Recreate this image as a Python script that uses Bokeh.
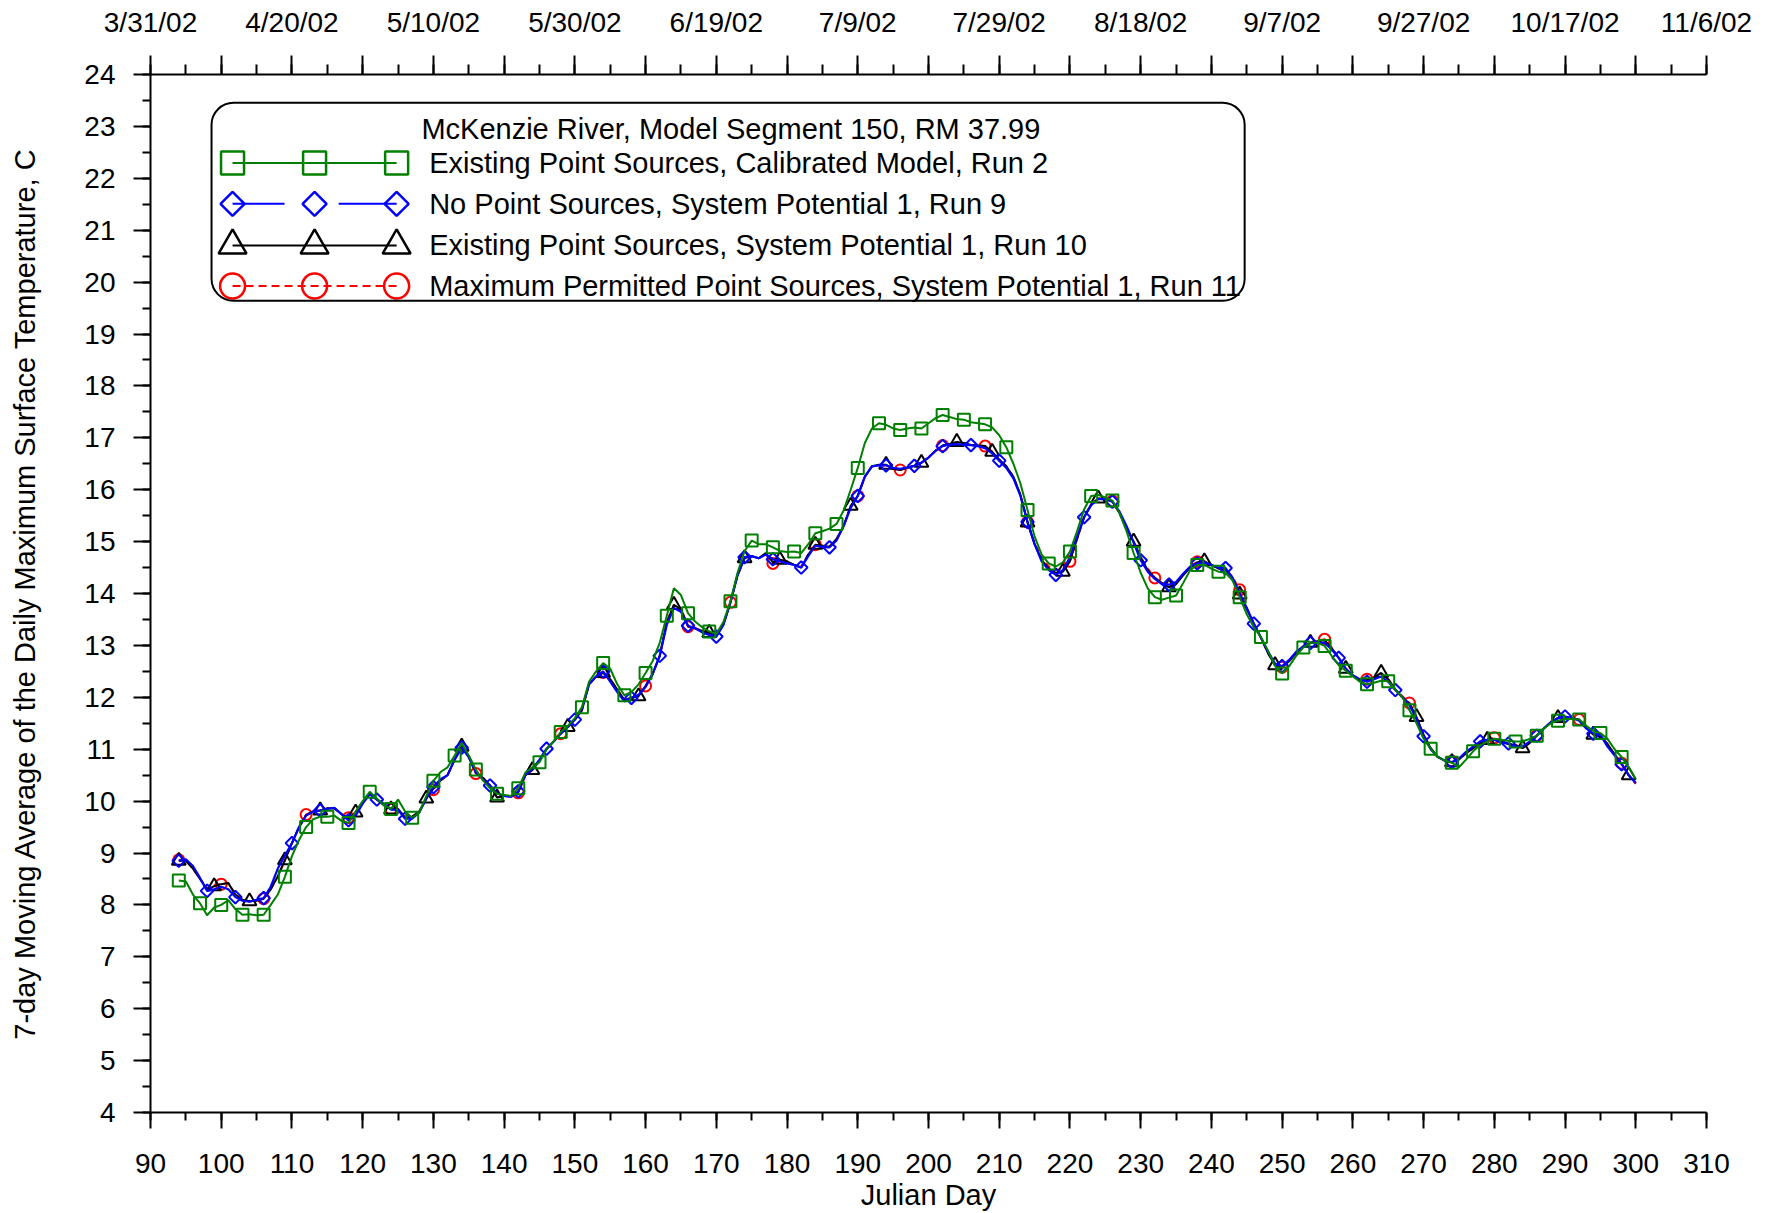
from bokeh.plotting import figure
from bokeh.models import Range1d, LinearAxis, SingleIntervalTicker, BoxAnnotation, Label
from bokeh.embed import file_html
from bokeh.resources import INLINE

# ---------------- data ----------------
days = list(range(94, 301))

# Existing Point Sources, Calibrated Model, Run 2 (green)
run2 = [
    8.47, 8.45, 8.20, 8.03, 7.80, 7.95, 8.00, 8.09, 7.92, 7.81,
    7.82, 7.80, 7.81, 8.00, 8.20, 8.54, 8.94, 9.25, 9.50, 9.65,
    9.70, 9.70, 9.72, 9.62, 9.58, 9.80, 10.00, 10.18, 10.05, 9.92,
    9.85, 10.03, 9.80, 9.68, 9.78, 10.10, 10.39, 10.56, 10.65, 10.88,
    11.12, 10.88, 10.61, 10.40, 10.25, 10.14, 10.12, 10.10, 10.25, 10.55,
    10.65, 10.75, 11.00, 11.15, 11.33, 11.45, 11.60, 11.81, 12.30, 12.50,
    12.66, 12.55, 12.25, 12.04, 12.10, 12.25, 12.47, 12.70, 13.05, 13.57,
    14.10, 13.97, 13.62, 13.46, 13.35, 13.27, 13.22, 13.45, 13.85, 14.40,
    14.82, 15.02, 14.95, 14.95, 14.89, 14.82, 14.80, 14.81, 14.78, 14.95,
    15.16, 15.20, 15.25, 15.34, 15.60, 16.00, 16.42, 16.90, 17.18, 17.28,
    17.25, 17.18, 17.15, 17.18, 17.20, 17.18, 17.28, 17.38, 17.44, 17.40,
    17.36, 17.35, 17.30, 17.28, 17.26, 17.20, 17.05, 16.82, 16.50, 16.12,
    15.61, 15.10, 14.75, 14.58, 14.52, 14.60, 14.81, 15.20, 15.62, 15.88,
    15.90, 15.85, 15.79, 15.55, 15.20, 14.78, 14.40, 14.10, 13.93, 13.88,
    13.92, 13.96, 14.20, 14.45, 14.55, 14.55, 14.48, 14.42, 14.40, 14.25,
    13.93, 13.60, 13.35, 13.16, 12.90, 12.60, 12.46, 12.60, 12.80, 12.96,
    13.05, 13.05, 12.99, 12.80, 12.62, 12.51, 12.40, 12.30, 12.25, 12.28,
    12.32, 12.31, 12.15, 12.00, 11.75, 11.50, 11.20, 11.01, 10.85, 10.78,
    10.74, 10.65, 10.80, 10.96, 11.08, 11.15, 11.20, 11.18, 11.16, 11.15,
    11.15, 11.20, 11.26, 11.40, 11.50, 11.55, 11.58, 11.58, 11.57, 11.45,
    11.35, 11.31, 11.20, 11.00, 10.85, 10.65, 10.42,
]

# No Point Sources, System Potential 1, Run 9 (blue)
run9 = [
    8.85, 8.88, 8.75, 8.52, 8.27, 8.30, 8.35, 8.30, 8.15, 8.08,
    8.06, 8.10, 8.13, 8.35, 8.70, 8.95, 9.19, 9.50, 9.72, 9.80,
    9.82, 9.85, 9.87, 9.75, 9.63, 9.72, 9.95, 10.13, 10.03, 9.95,
    9.84, 9.83, 9.66, 9.66, 9.78, 10.05, 10.27, 10.42, 10.50, 10.80,
    11.03, 10.85, 10.55, 10.42, 10.30, 10.15, 10.10, 10.08, 10.19, 10.50,
    10.62, 10.80, 11.01, 11.15, 11.30, 11.43, 11.57, 11.78, 12.25, 12.40,
    12.50, 12.30, 12.10, 11.92, 11.99, 12.05, 12.20, 12.45, 12.80, 13.40,
    13.72, 13.65, 13.38, 13.33, 13.25, 13.20, 13.17, 13.40, 13.83, 14.35,
    14.70, 14.72, 14.68, 14.75, 14.66, 14.62, 14.58, 14.55, 14.50, 14.72,
    14.92, 14.90, 14.89, 15.02, 15.30, 15.65, 15.88, 16.25, 16.45, 16.47,
    16.47, 16.42, 16.40, 16.43, 16.46, 16.52, 16.62, 16.75, 16.84, 16.87,
    16.88, 16.87, 16.86, 16.84, 16.80, 16.70, 16.56, 16.42, 16.22, 15.88,
    15.38, 14.95, 14.62, 14.45, 14.36, 14.45, 14.70, 15.10, 15.47, 15.70,
    15.82, 15.82, 15.77, 15.58, 15.30, 14.98, 14.64, 14.42, 14.28, 14.18,
    14.17, 14.22, 14.38, 14.52, 14.58, 14.60, 14.55, 14.50, 14.49, 14.30,
    14.00, 13.72, 13.42, 13.15, 12.88, 12.65, 12.60, 12.72, 12.88, 12.98,
    13.05, 13.05, 13.05, 12.92, 12.76, 12.55, 12.42, 12.35, 12.30, 12.35,
    12.40, 12.30, 12.14, 12.00, 11.85, 11.58, 11.25, 11.00, 10.85, 10.78,
    10.75, 10.82, 10.95, 11.05, 11.15, 11.18, 11.18, 11.12, 11.11, 11.05,
    11.05, 11.15, 11.26, 11.40, 11.52, 11.60, 11.63, 11.60, 11.55, 11.40,
    11.30, 11.28, 11.05, 10.88, 10.71, 10.50, 10.35,
]

# Existing Point Sources, System Potential 1, Run 10 (black)
run10 = [
    8.85, 8.85, 8.70, 8.50, 8.30, 8.36, 8.40, 8.42, 8.20, 8.10,
    8.07, 8.08, 8.12, 8.30, 8.55, 8.86, 9.19, 9.50, 9.73, 9.80,
    9.82, 9.86, 9.86, 9.75, 9.66, 9.78, 9.98, 10.15, 10.03, 9.92,
    9.84, 9.85, 9.68, 9.70, 9.80, 10.05, 10.24, 10.40, 10.50, 10.80,
    11.05, 10.85, 10.55, 10.45, 10.30, 10.07, 10.10, 10.10, 10.17, 10.50,
    10.60, 10.78, 11.00, 11.15, 11.30, 11.43, 11.57, 11.75, 12.25, 12.40,
    12.47, 12.35, 12.15, 11.95, 11.99, 12.02, 12.22, 12.45, 12.80, 13.45,
    13.78, 13.70, 13.37, 13.33, 13.28, 13.24, 13.18, 13.40, 13.83, 14.35,
    14.68, 14.72, 14.68, 14.78, 14.60, 14.65, 14.62, 14.55, 14.50, 14.75,
    14.94, 14.92, 14.90, 15.05, 15.30, 15.69, 15.88, 16.25, 16.45, 16.48,
    16.48, 16.40, 16.38, 16.42, 16.46, 16.52, 16.62, 16.75, 16.85, 16.88,
    16.92, 16.90, 16.86, 16.85, 16.84, 16.73, 16.58, 16.45, 16.25, 15.90,
    15.37, 14.95, 14.65, 14.48, 14.40, 14.42, 14.62, 15.05, 15.47, 15.72,
    15.83, 15.82, 15.77, 15.55, 15.25, 15.00, 14.70, 14.45, 14.30, 14.20,
    14.12, 14.18, 14.35, 14.50, 14.60, 14.62, 14.55, 14.48, 14.45, 14.30,
    13.98, 13.70, 13.42, 13.15, 12.85, 12.62, 12.58, 12.70, 12.85, 12.98,
    13.05, 13.08, 13.10, 12.95, 12.76, 12.55, 12.42, 12.33, 12.33, 12.38,
    12.47, 12.35, 12.15, 12.00, 11.88, 11.62, 11.28, 11.02, 10.85, 10.78,
    10.75, 10.80, 10.92, 11.02, 11.12, 11.18, 11.20, 11.15, 11.10, 11.08,
    11.02, 11.12, 11.26, 11.40, 11.52, 11.60, 11.62, 11.60, 11.57, 11.42,
    11.28, 11.25, 11.10, 10.90, 10.72, 10.50, 10.35,
]

# Maximum Permitted Point Sources, System Potential 1, Run 11 (red)
run11 = [
    8.87, 8.86, 8.70, 8.50, 8.32, 8.38, 8.40, 8.42, 8.20, 8.10,
    8.07, 8.09, 8.12, 8.30, 8.55, 8.86, 9.19, 9.50, 9.74, 9.80,
    9.82, 9.86, 9.86, 9.75, 9.68, 9.78, 9.98, 10.15, 10.03, 9.92,
    9.84, 9.85, 9.68, 9.70, 9.80, 10.05, 10.22, 10.40, 10.50, 10.80,
    11.05, 10.85, 10.53, 10.45, 10.30, 10.07, 10.10, 10.10, 10.16, 10.50,
    10.60, 10.78, 11.00, 11.15, 11.30, 11.43, 11.57, 11.75, 12.25, 12.40,
    12.48, 12.35, 12.15, 11.95, 11.99, 12.02, 12.22, 12.45, 12.80, 13.45,
    13.78, 13.70, 13.36, 13.33, 13.28, 13.24, 13.18, 13.40, 13.83, 14.35,
    14.68, 14.72, 14.68, 14.76, 14.58, 14.63, 14.62, 14.55, 14.52, 14.75,
    14.94, 14.92, 14.90, 15.05, 15.30, 15.68, 15.88, 16.25, 16.45, 16.47,
    16.46, 16.40, 16.38, 16.42, 16.46, 16.52, 16.62, 16.75, 16.85, 16.88,
    16.91, 16.90, 16.86, 16.85, 16.84, 16.73, 16.58, 16.45, 16.25, 15.90,
    15.38, 14.97, 14.68, 14.52, 14.45, 14.48, 14.62, 15.05, 15.47, 15.72,
    15.83, 15.82, 15.78, 15.55, 15.25, 15.00, 14.70, 14.48, 14.30, 14.20,
    14.14, 14.20, 14.36, 14.52, 14.61, 14.62, 14.55, 14.48, 14.45, 14.32,
    14.07, 13.72, 13.42, 13.15, 12.85, 12.62, 12.58, 12.70, 12.85, 12.98,
    13.05, 13.09, 13.12, 12.96, 12.76, 12.55, 12.42, 12.35, 12.35, 12.38,
    12.45, 12.35, 12.15, 12.02, 11.89, 11.62, 11.28, 11.02, 10.85, 10.78,
    10.77, 10.80, 10.92, 11.02, 11.12, 11.18, 11.22, 11.15, 11.10, 11.08,
    11.03, 11.12, 11.26, 11.40, 11.52, 11.60, 11.62, 11.60, 11.57, 11.42,
    11.28, 11.25, 11.10, 10.90, 10.73, 10.50, 10.33,
]

# marker spacing (every n-th daily value carries a symbol)
marker_every = {"run2": 3, "run9": 4, "run10": 5, "run11": 6}

# top axis date labels
date_days = [90, 110, 130, 150, 170, 190, 210, 230, 250, 270, 290, 310]
date_labels = ["3/31/02", "4/20/02", "5/10/02", "5/30/02", "6/19/02", "7/9/02",
               "7/29/02", "8/18/02", "9/7/02", "9/27/02", "10/17/02", "11/6/02"]

legend_title = "McKenzie River, Model Segment 150, RM 37.99"
legend_names = [
    "Existing Point Sources, Calibrated Model, Run 2",
    "No Point Sources, System Potential 1, Run 9",
    "Existing Point Sources, System Potential 1, Run 10",
    "Maximum Permitted Point Sources, System Potential 1, Run 11",
]

FONT = "Liberation Sans"
GREEN, BLUE, BLACK, RED = "#008000", "#0000FF", "#000000", "#FF0000"

# ---------------- figure ----------------
p = figure(width=1778, height=1213, x_range=Range1d(90, 310), y_range=Range1d(4, 24),
           output_backend="svg", toolbar_location=None,
           min_border_left=150, min_border_right=72, min_border_top=74, min_border_bottom=99)
p.xgrid.visible = False
p.ygrid.visible = False
p.outline_line_color = None
p.background_fill_color = "white"
p.border_fill_color = "white"


def style_axis(ax, tick_out, minor_out, label_standoff):
    ax.axis_line_width = 2
    ax.axis_line_color = "black"
    ax.major_tick_line_width = 2
    ax.minor_tick_line_width = 2
    ax.major_tick_line_color = "black"
    ax.minor_tick_line_color = "black"
    ax.major_tick_in = 0
    ax.minor_tick_in = 0
    ax.major_tick_out = tick_out
    ax.minor_tick_out = minor_out
    ax.major_label_text_font = FONT
    ax.major_label_text_font_size = "28px"
    ax.major_label_text_color = "black"
    ax.major_label_standoff = label_standoff
    ax.axis_label_text_font = FONT
    ax.axis_label_text_font_size = "29px"
    ax.axis_label_text_font_style = "normal"
    ax.axis_label_text_color = "black"


xa = p.xaxis[0]
xa.ticker = SingleIntervalTicker(interval=10, num_minor_ticks=2)
style_axis(xa, 16, 8, 25)
xa.axis_label = "Julian Day"
xa.axis_label_standoff = 3

ya = p.yaxis[0]
ya.ticker = SingleIntervalTicker(interval=1, num_minor_ticks=2)
style_axis(ya, 17, 8, 18)
ya.axis_label = "7-day Moving Average of the Daily Maximum Surface Temperature, C"
ya.axis_label_standoff = 40

overrides = {}
for t in range(90, 311, 10):
    overrides[t] = ""
for d, lab in zip(date_days, date_labels):
    overrides[d] = lab
top = LinearAxis(ticker=SingleIntervalTicker(interval=10, num_minor_ticks=2),
                 major_label_overrides=overrides)
style_axis(top, 19, 10, 18)
p.add_layout(top, "above")

# ---------------- series ----------------
def marks(arr, n):
    return days[::n], arr[::n]

# red (bottom)
p.line(days, run11, line_color=RED, line_width=2, line_dash="6 4")
mx, my = marks(run11, marker_every["run11"])
p.scatter(mx, my, marker="circle", size=11, fill_color=None, line_color=RED, line_width=2)
# black
p.line(days, run10, line_color=BLACK, line_width=2)
mx, my = marks(run10, marker_every["run10"])
p.scatter(mx, my, marker="triangle", size=14, fill_color=None, line_color=BLACK, line_width=2)
# blue
p.line(days, run9, line_color=BLUE, line_width=2.2)
mx, my = marks(run9, marker_every["run9"])
p.scatter(mx, my, marker="square", angle=0.785398, size=9, fill_color=None, line_color=BLUE, line_width=2)
# green (top)
p.line(days, run2, line_color=GREEN, line_width=2)
mx, my = marks(run2, marker_every["run2"])
p.scatter(mx, my, marker="square", size=12, fill_color=None, line_color=GREEN, line_width=2)

# ---------------- legend (drawn by hand) ----------------
box = BoxAnnotation(left=98.63, right=244.7, top=23.456, bottom=19.64,
                    fill_alpha=0, line_color="black", line_alpha=1, line_width=2,
                    border_radius=22)
p.add_layout(box)

lx = [101.6, 113.2, 124.8]
rows = [22.296, 21.508, 20.706, 19.923]
text_x = 129.4

p.line([lx[0], lx[2]], [rows[0]] * 2, line_color=GREEN, line_width=2)
p.scatter(lx, [rows[0]] * 3, marker="square", size=23, fill_color=None, line_color=GREEN, line_width=2.5)

p.multi_line([[lx[0], 108.95], [116.6, lx[2]]], [[rows[1]] * 2, [rows[1]] * 2], line_color=BLUE, line_width=2)
p.scatter(lx, [rows[1]] * 3, marker="square", angle=0.785398, size=17, fill_color=None, line_color=BLUE, line_width=2.5)

p.line([lx[0], lx[2]], [rows[2]] * 2, line_color=BLACK, line_width=2)
p.scatter(lx, [rows[2]] * 3, marker="triangle", size=28, fill_color=None, line_color=BLACK, line_width=2.5)

p.line([lx[0], lx[2]], [rows[3]] * 2, line_color=RED, line_width=2, line_dash="8 5")
p.scatter(lx, [rows[3]] * 3, marker="circle", size=25, fill_color=None, line_color=RED, line_width=2.5)

p.add_layout(Label(x=128.3, y=22.95, text=legend_title, text_font=FONT, text_font_size="29px",
                   text_baseline="middle", text_color="black"))
for r, name in zip(rows, legend_names):
    p.add_layout(Label(x=text_x, y=r, text=name, text_font=FONT, text_font_size="29px",
                       text_baseline="middle", text_color="black"))

open("out.html", "w").write(file_html(p, INLINE))
